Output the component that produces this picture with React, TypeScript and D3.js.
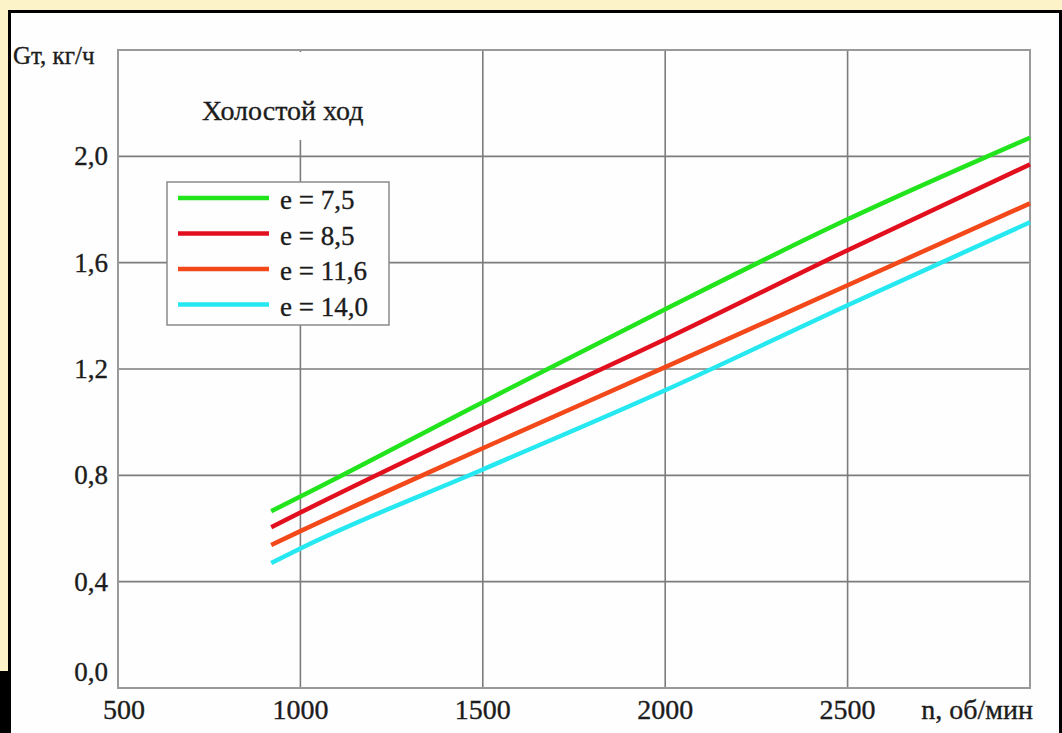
import * as d3 from 'd3'

// engine speed, rpm
const N_RPM = [920, 1000, 1500, 2000, 2500, 3000]

// fuel consumption Gт, kg/h, one array per compression ratio
const G_E75 = [0.665, 0.72, 1.075, 1.425, 1.763, 2.07]
const G_E85 = [0.605, 0.66, 0.992, 1.312, 1.647, 1.97]
const G_E116 = [0.538, 0.59, 0.902, 1.207, 1.515, 1.823]
const G_E140 = [0.47, 0.525, 0.822, 1.12, 1.44, 1.752]

const SERIES_LABELS = ['e = 7,5', 'e = 8,5', 'e = 11,6', 'e = 14,0']
const SERIES_COLORS = ['#22e41c', '#e2101e', '#f2481a', '#26e8f0']

const X_TICKS = [500, 1000, 1500, 2000, 2500]
const X_GRID = [1000, 1500, 2000, 2500]
const Y_TICKS = [0, 0.4, 0.8, 1.2, 1.6, 2.0]

const W = 1062
const H = 733
const FONT = '"Liberation Serif", "Times New Roman", serif'
const INK = '#1c1c1c'

export default function App() {
  const x = d3.scaleLinear().domain([500, 3000]).range([118, 1030])
  const y = d3.scaleLinear().domain([0, 2.4]).range([688, 50])

  const series = [G_E75, G_E85, G_E116, G_E140].map((vals, i) => ({
    label: SERIES_LABELS[i],
    color: SERIES_COLORS[i],
    points: N_RPM.map((n, j) => [n, vals[j]] as [number, number]),
  }))

  const line = d3
    .line<[number, number]>()
    .x((d) => x(d[0]))
    .y((d) => y(d[1]))
    .curve(d3.curveMonotoneX)

  const fmt = (v: number) => d3.format('.1f')(v).replace('.', ',')

  // text is a little heavier in the scan, thicken it with a thin stroke
  const txt = { fill: INK, stroke: INK, strokeWidth: 0.35 }

  // legend box
  const lg = { x: 167, y: 182, w: 222, h: 143 }

  return (
    <svg
      width={W}
      height={H}
      style={{ position: 'fixed', left: 0, top: 0, display: 'block' }}
      fontFamily={FONT}
    >
      {/* page frame */}
      <rect x={0} y={0} width={W} height={H} fill="#fcf3c8" />
      <rect x={0} y={671} width={11} height={H - 671} fill="#000" />
      <rect x={8} y={10} width={W - 8} height={H - 10} fill="#000" />
      <rect x={11} y={13} width={1048} height={H - 13} fill="#fefefe" />

      {/* grid */}
      {X_GRID.map((n) => (
        <line key={n} x1={x(n)} x2={x(n)} y1={y(2.4)} y2={y(0)} stroke="#7c7c7c" strokeWidth={1.6} />
      ))}
      {Y_TICKS.filter((v) => v > 0).map((v) => (
        <line key={v} x1={x(500)} x2={x(3000)} y1={y(v)} y2={y(v)} stroke="#7c7c7c" strokeWidth={1.6} />
      ))}
      <rect
        x={x(500)}
        y={y(2.4)}
        width={x(3000) - x(500)}
        height={y(0) - y(2.4)}
        fill="none"
        stroke="#9a9a9a"
        strokeWidth={2}
      />

      {/* title, the grid is hidden behind it */}
      <rect x={196} y={y(2.4) + 2} width={182} height={88} fill="#fefefe" />
      <text x={202} y={120} fontSize={28} {...txt}>
        Холостой ход
      </text>

      {/* curves */}
      {series.map((s) => (
        <path key={s.label} d={line(s.points) ?? ''} fill="none" stroke={s.color} strokeWidth={4.5} />
      ))}

      {/* legend */}
      <rect x={lg.x} y={lg.y} width={lg.w} height={lg.h} fill="#fefefe" stroke="#8a8a8a" strokeWidth={1.5} />
      {series.map((s, i) => {
        const cy = 198 + i * 35.5
        return (
          <g key={s.label}>
            <line x1={178} x2={269} y1={cy} y2={cy} stroke={s.color} strokeWidth={4.5} />
            <text x={280} y={cy + 11} fontSize={27} {...txt}>
              {s.label}
            </text>
          </g>
        )
      })}

      {/* y axis labels */}
      {Y_TICKS.map((v) => (
        <text
          key={v}
          x={108}
          y={v === 0 ? y(v) - 7 : y(v) + 9}
          textAnchor="end"
          fontSize={27}
          {...txt}
        >
          {fmt(v)}
        </text>
      ))}
      <text x={13} y={64} fontSize={25} {...txt}>
        Gт, кг/ч
      </text>

      {/* x axis labels */}
      {X_TICKS.map((n) => (
        <text key={n} x={x(n) + (n === 500 ? 6 : 0)} y={719} textAnchor="middle" fontSize={28} {...txt}>
          {n}
        </text>
      ))}
      <text x={1033} y={719} textAnchor="end" fontSize={28} {...txt}>
        n, об/мин
      </text>
    </svg>
  )
}
